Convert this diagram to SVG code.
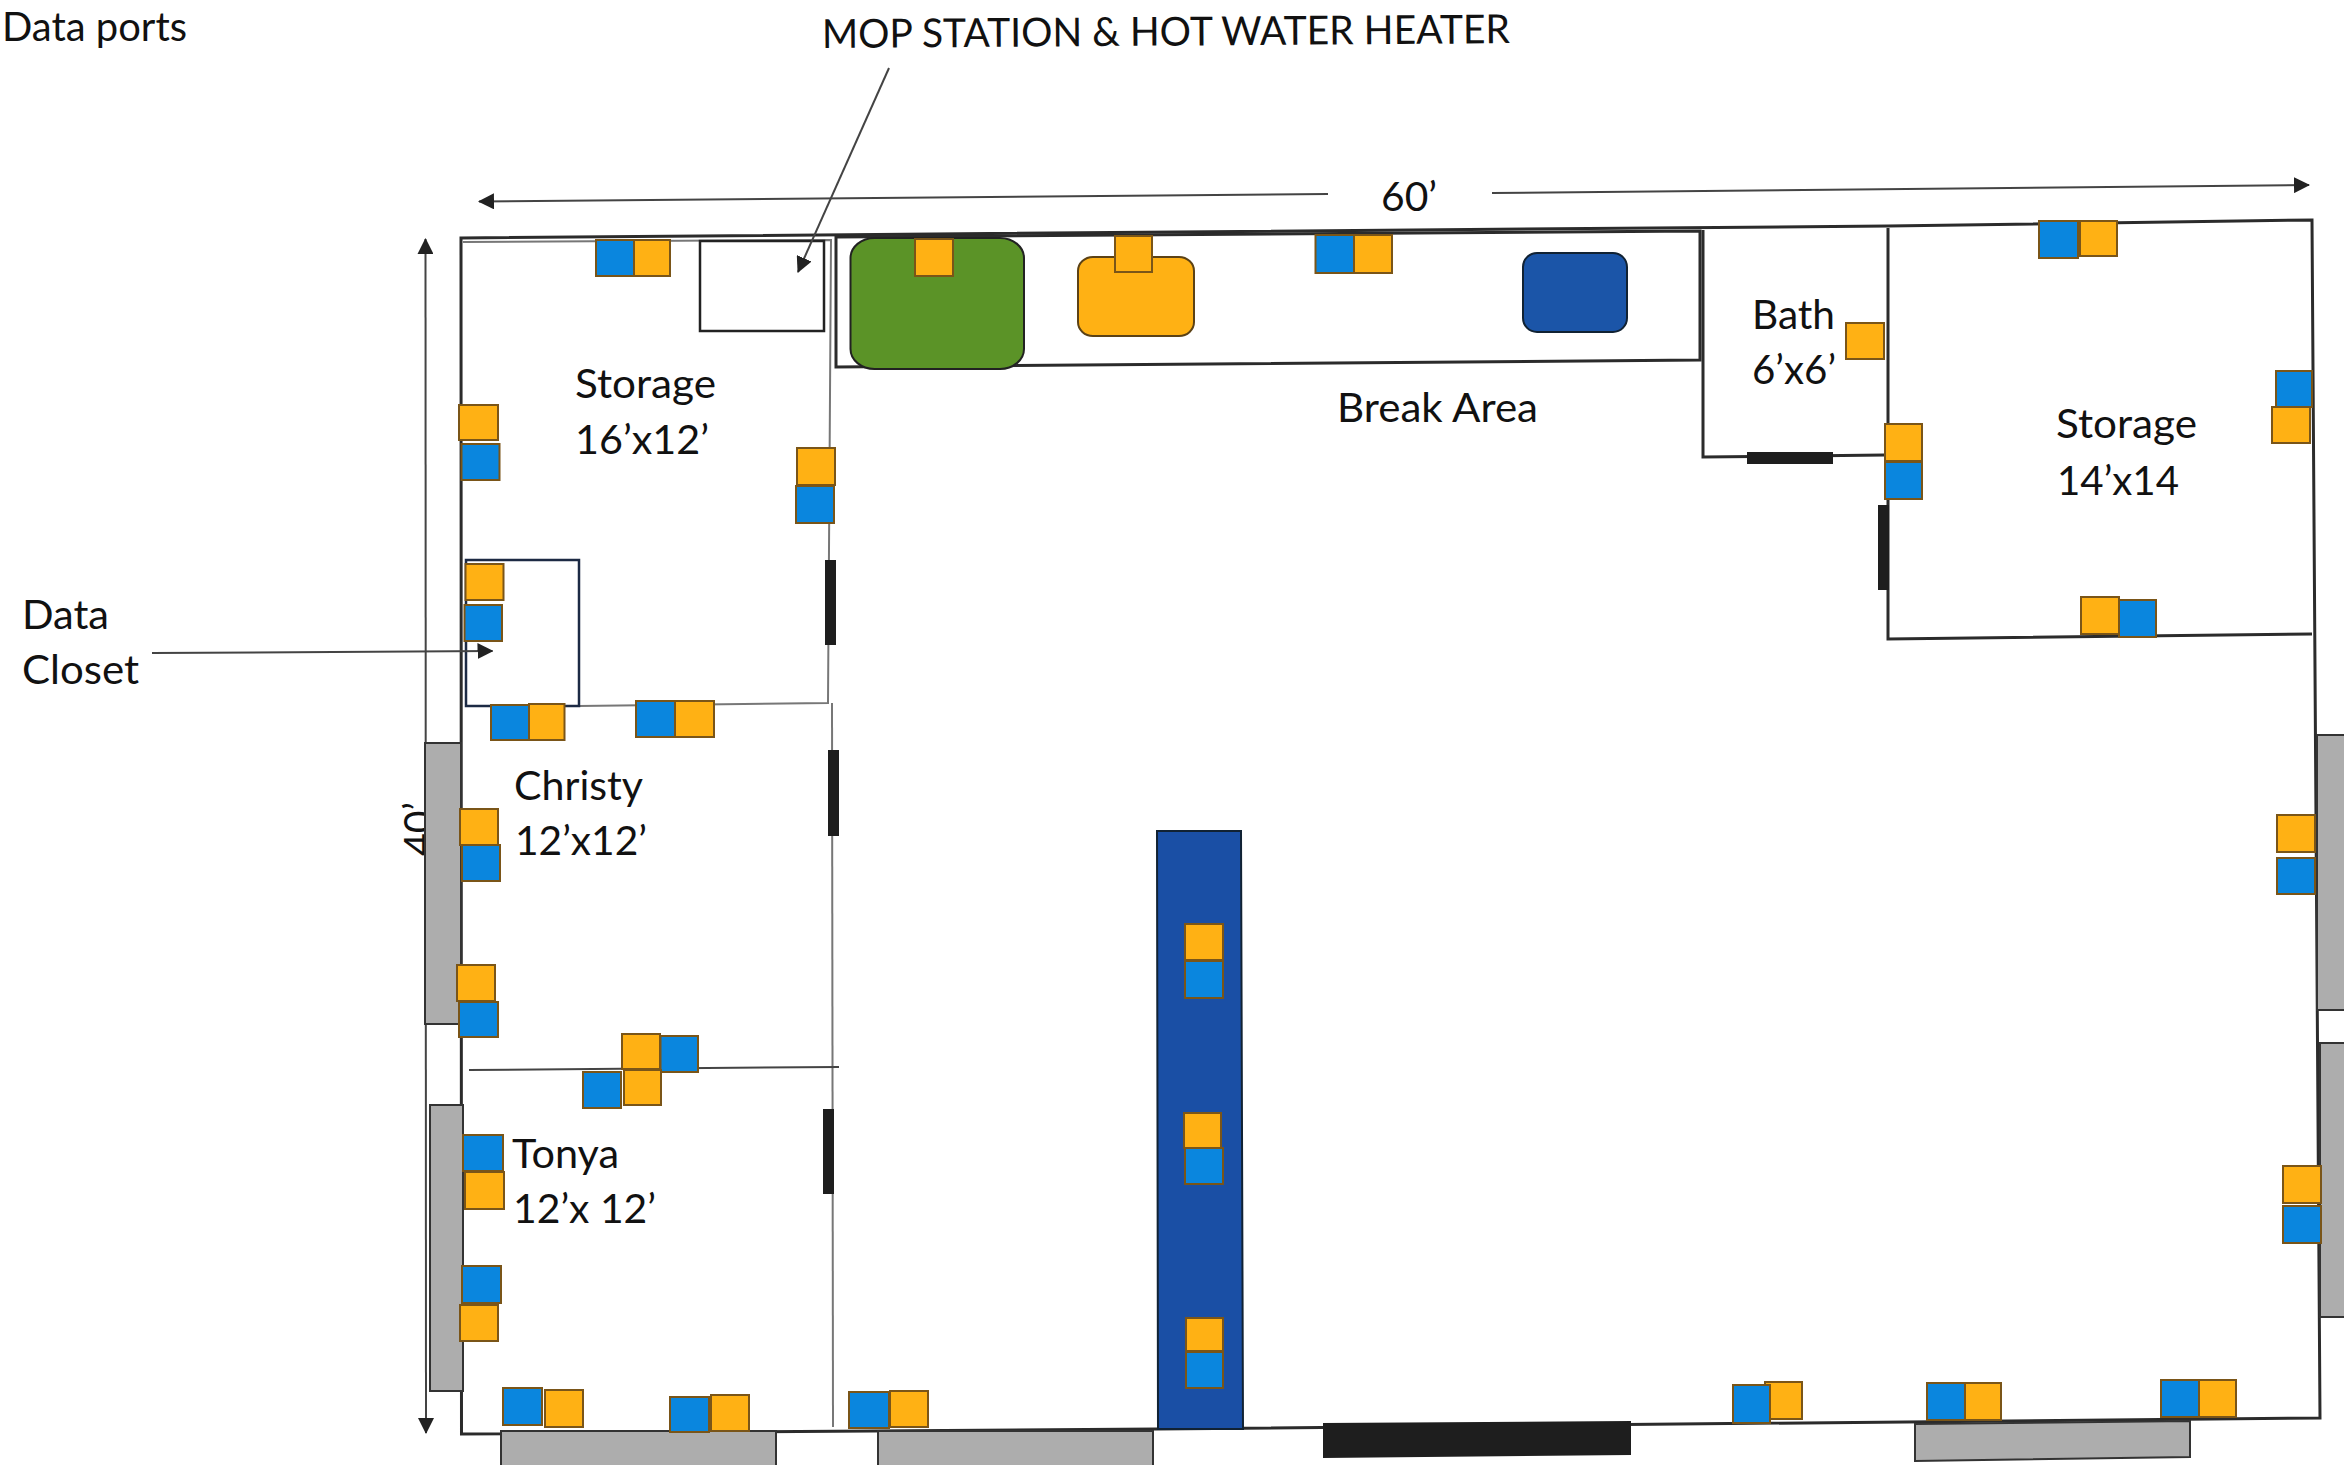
<svg xmlns="http://www.w3.org/2000/svg" width="2344" height="1465" viewBox="0 0 2344 1465">
<style>
text{font-family:"Lato","Liberation Sans",sans-serif;font-size:40px;fill:#111}
.o{fill:#FFB114;stroke:#7A5518;stroke-width:2}
.b{fill:#0A86DE;stroke:#7A5518;stroke-width:2}
.g{fill:#ADADAD;stroke:#333;stroke-width:2}
.d{fill:#1E1E1E}
.w{fill:none;stroke:#2b2b2b;stroke-width:3}
.t{fill:none;stroke:#777;stroke-width:2}
.a{fill:none;stroke:#444;stroke-width:2}
.ah{marker-end:url(#h)}
</style>
<defs>
<marker id="h" markerUnits="userSpaceOnUse" markerWidth="16" markerHeight="16" refX="15" refY="8" orient="auto-start-reverse"><path d="M0 0L16 8L0 16Z" fill="#222"/></marker>
</defs>
<rect width="2344" height="1465" fill="#fff"/>
<g id="labels-behind"><text x="0" y="0" transform="translate(433 856) rotate(-90)" textLength="54" lengthAdjust="spacingAndGlyphs">40’</text></g>
<path class="a" marker-start="url(#h)" d="M425.500 239L426 1433" style="marker-end:url(#h)"/>
<g id="walls">
<path class="w" d="M461 238L1888 226L2312 220L2320 1418L1157 1429L461.500 1434Z"/>
<path class="t" d="M463 242L831 240L828 703L579 706"/>
<path class="t" d="M832 703L833 1427"/>
<path class="t" style="stroke:#444" d="M469 1070L839 1067"/>
<path class="w" d="M836 237L1700 231L1700 360L836 367Z"/>
<path class="w" d="M1703 230L1703 457L1885 455"/>
<path class="w" d="M1888 228L1888 639L2312 634"/>
</g>
<g id="windows">
<rect class="g" x="425" y="743" width="36" height="281"/>
<rect class="g" x="430" y="1105" width="33" height="286"/>
<rect class="g" x="501" y="1431" width="275" height="36"/>
<rect class="g" x="878" y="1431" width="275" height="36"/>
<path class="g" d="M1915 1424L2190 1421L2190 1457L1915 1461Z"/>
<rect class="g" x="2317" y="735" width="30" height="275"/>
<rect class="g" x="2320" y="1043" width="30" height="274"/>
</g>
<g id="doors">
<rect class="d" x="825" y="560" width="11" height="85"/>
<rect class="d" x="828" y="750" width="11" height="86"/>
<rect class="d" x="823" y="1109" width="11" height="85"/>
<rect class="d" x="1747" y="452" width="86" height="12"/>
<rect class="d" x="1878" y="505" width="11" height="85"/>
<path class="d" d="M1323 1423L1631 1421L1631 1455L1323 1458Z"/>
</g>
<g id="mop-station"><rect x="700" y="241" width="124" height="90" fill="#fff" stroke="#222" stroke-width="2.500"/></g>
<g id="data-closet"><rect x="466" y="560" width="113" height="146" fill="none" stroke="#1c2a44" stroke-width="2.500"/></g>
<g id="fixture-green"><rect x="850.500" y="238" width="173.500" height="131" rx="24" ry="20" fill="#5B9327" stroke="#222" stroke-width="2"/></g>
<g id="fixture-orange"><rect x="1078" y="257" width="116" height="79" rx="15" ry="14" fill="#FFB114" stroke="#5c4215" stroke-width="2"/></g>
<g id="fixture-blue"><rect x="1523" y="253" width="104" height="79" rx="14" ry="14" fill="#1B55A8" stroke="#123" stroke-width="2"/></g>
<g id="counter"><path d="M1157 831L1241 831L1243 1429L1158 1429Z" fill="#1A4FA5" stroke="#123" stroke-width="2"/></g>
<g id="connectors">
<path class="a" marker-start="url(#h)" d="M479 201.500L1328 194"/>
<path class="a ah" d="M1492 193L2309 185"/>
<path class="a ah" d="M889 68L798 272"/>
<path class="a ah" d="M152 653L492.500 651"/>
</g>
<g id="ports">
<g id="p1"><rect class="b" x="596" y="240" width="38" height="36"/><rect class="o" x="634" y="240" width="36" height="36"/></g>
<g id="p2"><rect class="o" x="459" y="405" width="39" height="35"/><rect class="b" x="461.500" y="444" width="38" height="36"/></g>
<g id="p3"><rect class="o" x="797" y="448" width="38" height="37"/><rect class="b" x="796" y="486" width="38" height="37"/></g>
<g id="p4"><rect class="o" x="465.500" y="564" width="38" height="36"/><rect class="b" x="464.500" y="605" width="37.500" height="36"/></g>
<g id="p5"><rect class="b" x="491" y="705" width="38" height="35"/><rect class="o" x="529" y="704" width="35.500" height="36"/></g>
<g id="p6"><rect class="b" x="636" y="701" width="39" height="36"/><rect class="o" x="675" y="701" width="39" height="36"/></g>
<g id="p7"><rect class="o" x="460" y="809" width="38" height="36"/><rect class="b" x="462" y="845" width="38" height="36"/></g>
<g id="p8"><rect class="o" x="457" y="965" width="38" height="36"/><rect class="b" x="459" y="1002" width="39" height="35"/></g>
<g id="p9"><rect class="o" x="622" y="1034" width="38" height="35"/><rect class="b" x="660.500" y="1036" width="37.500" height="36"/></g>
<g id="p10"><rect class="b" x="583" y="1072" width="38" height="36"/><rect class="o" x="624" y="1070" width="37" height="35"/></g>
<g id="p11"><rect class="b" x="463" y="1135" width="40" height="36"/><rect class="o" x="465" y="1172" width="39" height="37"/></g>
<g id="p12"><rect class="b" x="462" y="1266" width="39" height="37"/><rect class="o" x="460" y="1305" width="38" height="36"/></g>
<g id="p13"><rect class="b" x="503" y="1388" width="39" height="37"/><rect class="o" x="545" y="1390" width="38" height="37"/></g>
<g id="p14"><rect class="b" x="670" y="1397" width="39" height="35"/><rect class="o" x="711" y="1395" width="38" height="36"/></g>
<g id="p15"><rect class="b" x="849" y="1392" width="40" height="36"/><rect class="o" x="890" y="1391" width="38" height="36"/></g>
<g id="p16"><rect class="o" x="915" y="239" width="38" height="37"/></g>
<g id="p17"><rect class="o" x="1115" y="236" width="37" height="36"/></g>
<g id="p18"><rect class="b" x="1315.500" y="235" width="38.500" height="38"/><rect class="o" x="1354" y="235" width="38" height="38"/></g>
<g id="p19"><rect class="b" x="2039" y="221" width="39" height="37"/><rect class="o" x="2080" y="221" width="37" height="35"/></g>
<g id="p20"><rect class="o" x="1846" y="323" width="38" height="36"/></g>
<g id="p21"><rect class="o" x="1885" y="424" width="37" height="37"/><rect class="b" x="1885" y="462" width="37" height="37"/></g>
<g id="p22"><rect class="b" x="2276" y="371" width="36" height="36"/><rect class="o" x="2272" y="407" width="38" height="36"/></g>
<g id="p23"><rect class="o" x="2081" y="597" width="38" height="37"/><rect class="b" x="2119" y="600" width="37" height="37"/></g>
<g id="p24"><rect class="o" x="1185" y="924" width="38" height="36"/><rect class="b" x="1185" y="961" width="38" height="37"/></g>
<g id="p25"><rect class="o" x="1184" y="1113" width="37" height="35"/><rect class="b" x="1185" y="1148" width="38" height="36"/></g>
<g id="p26"><rect class="o" x="1186" y="1318" width="37" height="33"/><rect class="b" x="1186" y="1352" width="37" height="36"/></g>
<g id="p27"><rect class="o" x="2277" y="815" width="38" height="37"/><rect class="b" x="2277" y="858" width="38" height="36"/></g>
<g id="p28"><rect class="o" x="2283" y="1166" width="38" height="37"/><rect class="b" x="2283" y="1206" width="38" height="37"/></g>
<g id="p29"><rect class="o" x="1765" y="1382" width="37" height="37"/><rect class="b" x="1733" y="1385" width="37" height="38"/></g>
<g id="p30"><rect class="b" x="1927" y="1383" width="38" height="37"/><rect class="o" x="1965" y="1383" width="36" height="37"/></g>
<g id="p31"><rect class="b" x="2161" y="1380" width="38" height="37"/><rect class="o" x="2199" y="1380" width="37" height="37"/></g>
</g>
<g id="labels">
<text x="2" y="41" textLength="185" lengthAdjust="spacingAndGlyphs">Data ports</text>
<text x="0" y="0" transform="translate(822 48) rotate(-0.4)" textLength="688" lengthAdjust="spacingAndGlyphs">MOP STATION &amp; HOT WATER HEATER</text>
<text x="1381" y="211" textLength="56" lengthAdjust="spacingAndGlyphs">60’</text>
<text x="575" y="398" textLength="141" lengthAdjust="spacingAndGlyphs">Storage</text>
<text x="575" y="454" textLength="134" lengthAdjust="spacingAndGlyphs">16’x12’</text>
<text x="22" y="629" textLength="87" lengthAdjust="spacingAndGlyphs">Data</text>
<text x="22" y="684" textLength="117" lengthAdjust="spacingAndGlyphs">Closet</text>
<text x="1337" y="422" textLength="201" lengthAdjust="spacingAndGlyphs">Break Area</text>
<text x="1752" y="329" textLength="83" lengthAdjust="spacingAndGlyphs">Bath</text>
<text x="1752" y="384" textLength="84" lengthAdjust="spacingAndGlyphs">6’x6’</text>
<text x="2056" y="438" textLength="141" lengthAdjust="spacingAndGlyphs">Storage</text>
<text x="2057" y="495" textLength="122" lengthAdjust="spacingAndGlyphs">14’x14</text>
<text x="514" y="800" textLength="129" lengthAdjust="spacingAndGlyphs">Christy</text>
<text x="515" y="855" textLength="132" lengthAdjust="spacingAndGlyphs">12’x12’</text>
<text x="512" y="1168" textLength="107" lengthAdjust="spacingAndGlyphs">Tonya</text>
<text x="513" y="1223" textLength="143" lengthAdjust="spacingAndGlyphs">12’x 12’</text>
</g>
</svg>
